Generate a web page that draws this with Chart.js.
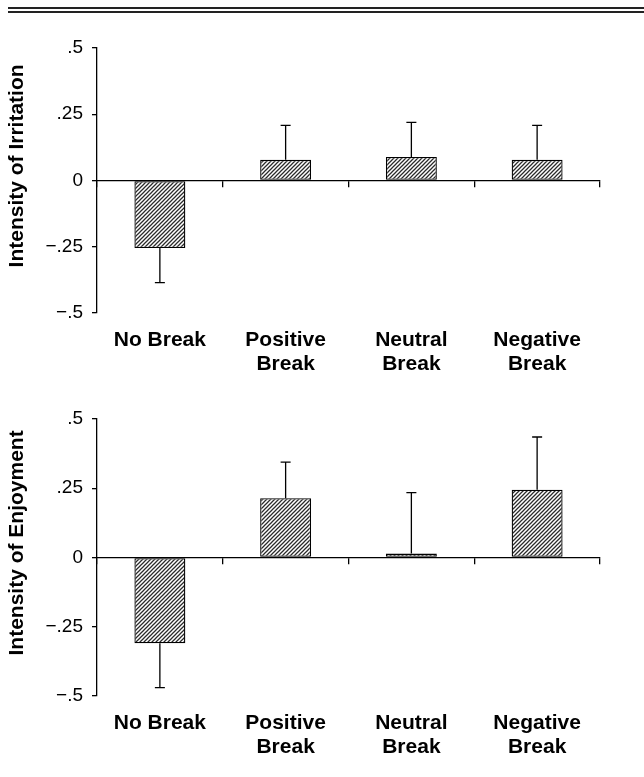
<!DOCTYPE html>
<html>
<head>
<meta charset="utf-8">
<script src="https://cdn.jsdelivr.net/npm/chart.js@4.4.1/dist/chart.umd.min.js"></script>
<style>
  html, body { margin:0; padding:0; background:#fff; }
  body { width:644px; height:777px; position:relative; overflow:hidden; }
  .rule { position:absolute; left:8px; right:0; top:7px; height:0; border-top:6px double #222; }
  .box { position:absolute; left:0; width:644px; }
</style>
</head>
<body>
<div class="rule"></div>
<div class="box" style="top:0;height:390px"><canvas id="irritation"></canvas></div>
<div class="box" style="top:390px;height:387px"><canvas id="enjoyment"></canvas></div>
<script>
// conditions (x-axis categories)
const categories = [['No Break'], ['Positive', 'Break'], ['Neutral', 'Break'], ['Negative', 'Break']];

// top panel — intensity of irritation (mean, one-sided error)
const irritation    = [-0.255, 0.078, 0.089, 0.078];
const irritationErr = [0.13, 0.13, 0.13, 0.13];

// bottom panel — intensity of enjoyment
const enjoyment    = [-0.31, 0.214, 0.014, 0.245];
const enjoymentErr = [0.16, 0.13, 0.22, 0.19];

// y ticks
const yTicks      = [-0.5, -0.25, 0, 0.25, 0.5];
const yTickLabels = ['\u2212.5', '\u2212.25', '0', '.25', '.5'];

const FONT = '"Liberation Sans", Arial, Helvetica, sans-serif';

function hatch() {
  const c = document.createElement('canvas');
  c.width = c.height = 4;
  const g = c.getContext('2d');
  g.fillStyle = '#fff'; g.fillRect(0, 0, 4, 4);
  g.strokeStyle = '#2a2a2a'; g.lineWidth = 1.25;
  g.beginPath();
  g.moveTo(0, 4); g.lineTo(4, 0);
  g.moveTo(-1, 1); g.lineTo(1, -1);
  g.moveTo(3, 5); g.lineTo(5, 3);
  g.stroke();
  return g.createPattern(c, 'repeat');
}

// one-sided error bars (away from zero), placed through the y scale
const errorBars = {
  id: 'errorBars',
  afterDatasetsDraw(chart) {
    const { ctx } = chart, y = chart.scales.y;
    const ds = chart.data.datasets[0];
    ctx.save();
    ctx.strokeStyle = '#000'; ctx.lineWidth = 1.3;
    chart.getDatasetMeta(0).data.forEach((bar, i) => {
      const v = ds.data[i], end = v + Math.sign(v) * ds.errors[i];
      const y0 = y.getPixelForValue(v), y1 = y.getPixelForValue(end);
      ctx.beginPath();
      ctx.moveTo(bar.x, y0); ctx.lineTo(bar.x, y1);
      ctx.moveTo(bar.x - 5, y1); ctx.lineTo(bar.x + 5, y1);
      ctx.stroke();
    });
    ctx.restore();
  }
};

function make(id, values, errs, title, pad) {
  return new Chart(document.getElementById(id), {
    type: 'bar',
    data: { labels: categories, datasets: [{
      data: values, errors: errs, backgroundColor: hatch(),
      borderColor: '#000', borderWidth: 1.3, borderSkipped: false,
      categoryPercentage: 1, barPercentage: 0.405, xAxisID: 'x'
    }]},
    plugins: [errorBars],
    options: {
      responsive: true, maintainAspectRatio: false, animation: false,
      layout: { padding: pad },
      plugins: { legend: { display: false }, tooltip: { enabled: false } },
      scales: {
        // zero line with boundary ticks
        x: { type: 'category', position: { y: 0 }, offset: true,
             grid: { offset: true, drawOnChartArea: false, tickLength: 6, color: '#000', lineWidth: 1.3 },
             border: { color: '#000', width: 1.3 },
             ticks: { display: false } },
        // condition labels at the bottom
        x2: { type: 'category', position: 'bottom', offset: true, labels: categories,
              grid: { display: false, drawTicks: false }, border: { display: false },
              ticks: { padding: 15, color: '#000', maxRotation: 0, autoSkip: false,
                       font: { family: FONT, size: 21, weight: 'bold', lineHeight: 24 / 21 } },
              afterFit: s => { s.height = 63; } },
        y: { min: -0.5, max: 0.5,
             afterBuildTicks: s => { s.ticks = yTicks.map(v => ({ value: v })); },
             grid: { drawOnChartArea: false, tickLength: 5, color: '#000', lineWidth: 1.3 },
             border: { color: '#000', width: 1.3 },
             ticks: { padding: 9, color: '#000', font: { family: FONT, size: 19 },
                      callback: (v, i) => yTickLabels[i] },
             title: { display: true, text: title, color: '#000', padding: { top: 5, bottom: 0 },
                      font: { family: FONT, size: 21, weight: 'bold' } },
             afterFit: s => { s.width = 97; } }
      }
    }
  });
}

// leading spaces nudge the centred axis title upward, as in the original
make('irritation', irritation, irritationErr, '     Intensity of Irritation', { top: 48, bottom: 14, left: 0, right: 44 });
make('enjoyment', enjoyment, enjoymentErr, '     Intensity of Enjoyment', { top: 29, bottom: 18, left: 0, right: 44 });
</script>
</body>
</html>
